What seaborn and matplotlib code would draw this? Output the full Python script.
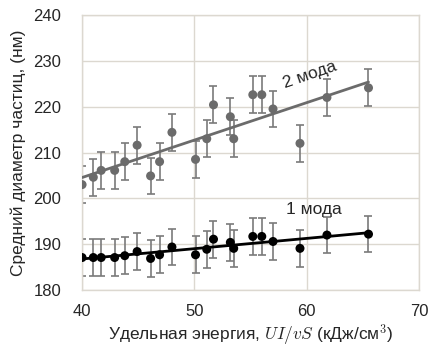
import numpy as np
import pandas as pd
import matplotlib
matplotlib.use("Agg")
import matplotlib.pyplot as plt
import seaborn as sns

# energy values (kJ/cm3) and mean particle diameters (nm)
energy = [40.0, 41.0, 41.7, 42.9, 43.8, 44.9, 46.1, 46.9, 48.0, 50.1,
          51.1, 51.7, 53.2, 53.5, 55.2, 56.0, 57.0, 59.4, 61.8, 65.5]
mode2 = [203.0, 204.6, 206.1, 206.1, 208.0, 211.6, 204.9, 208.0, 214.4, 208.5,
         213.0, 220.4, 217.8, 213.0, 222.6, 222.6, 219.5, 212.0, 222.0, 224.1]
mode1 = [187.1, 187.1, 187.1, 187.1, 187.5, 188.4, 186.9, 187.7, 189.4, 187.7,
         188.9, 191.1, 190.4, 189.1, 191.7, 191.7, 190.6, 189.1, 192.0, 192.2]
err2 = 4.0
err1 = 4.0

df = pd.DataFrame({"energy": energy, "mode1": mode1, "mode2": mode2})

sns.set_style("whitegrid")
plt.rcParams["font.family"] = ["Liberation Sans", "DejaVu Sans"]
plt.rcParams["mathtext.fontset"] = "cm"

fig = plt.figure(figsize=(4.32, 3.47), dpi=100)
ax = fig.add_axes([0.19, 0.164, 0.78, 0.793])

gray = "#6b6b6b"
ax.errorbar(df["energy"], df["mode2"], yerr=err2, fmt="none", ecolor="#7a7a7a",
            elinewidth=1.2, capsize=3, capthick=1.2, zorder=2)
ax.errorbar(df["energy"], df["mode1"], yerr=err1, fmt="none", ecolor="#7a7a7a",
            elinewidth=1.2, capsize=3, capthick=1.2, zorder=2)

sns.regplot(data=df, x="energy", y="mode2", ax=ax, ci=None, scatter=False,
            line_kws={"color": gray, "lw": 2, "zorder": 3})
sns.regplot(data=df, x="energy", y="mode1", ax=ax, ci=None, scatter=False,
            line_kws={"color": "black", "lw": 2, "zorder": 3})
sns.scatterplot(data=df, x="energy", y="mode2", ax=ax, color=gray, s=42,
                edgecolor="none", zorder=4)
sns.scatterplot(data=df, x="energy", y="mode1", ax=ax, color="black", s=42,
                edgecolor="none", zorder=4)

ax.text(60.3, 227.0, "2 мода", fontsize=12.5, rotation=19, ha="center", va="center")
ax.text(60.6, 197.6, "1 мода", fontsize=12.5, ha="center", va="center")

ax.set_xlim(40, 70)
ax.set_ylim(180, 240)
ax.set_xticks([40, 50, 60, 70])
ax.set_yticks([180, 190, 200, 210, 220, 230, 240])
ax.tick_params(axis="both", length=0, labelsize=12)
ax.tick_params(axis="x", pad=10)
ax.tick_params(axis="y", pad=15)
ax.grid(True, color="#dcd8d0", lw=1)
for s in ax.spines.values():
    s.set_color("#dcd8d0")
    s.set_linewidth(1)

ax.set_xlabel("Удельная энергия, $UI/vS$ (кДж/см$^3$)", fontsize=12.5, labelpad=3)
ax.set_ylabel("Средний диаметр частиц, (нм)", fontsize=12.5, labelpad=5)

fig.savefig("out.png", dpi=100)
